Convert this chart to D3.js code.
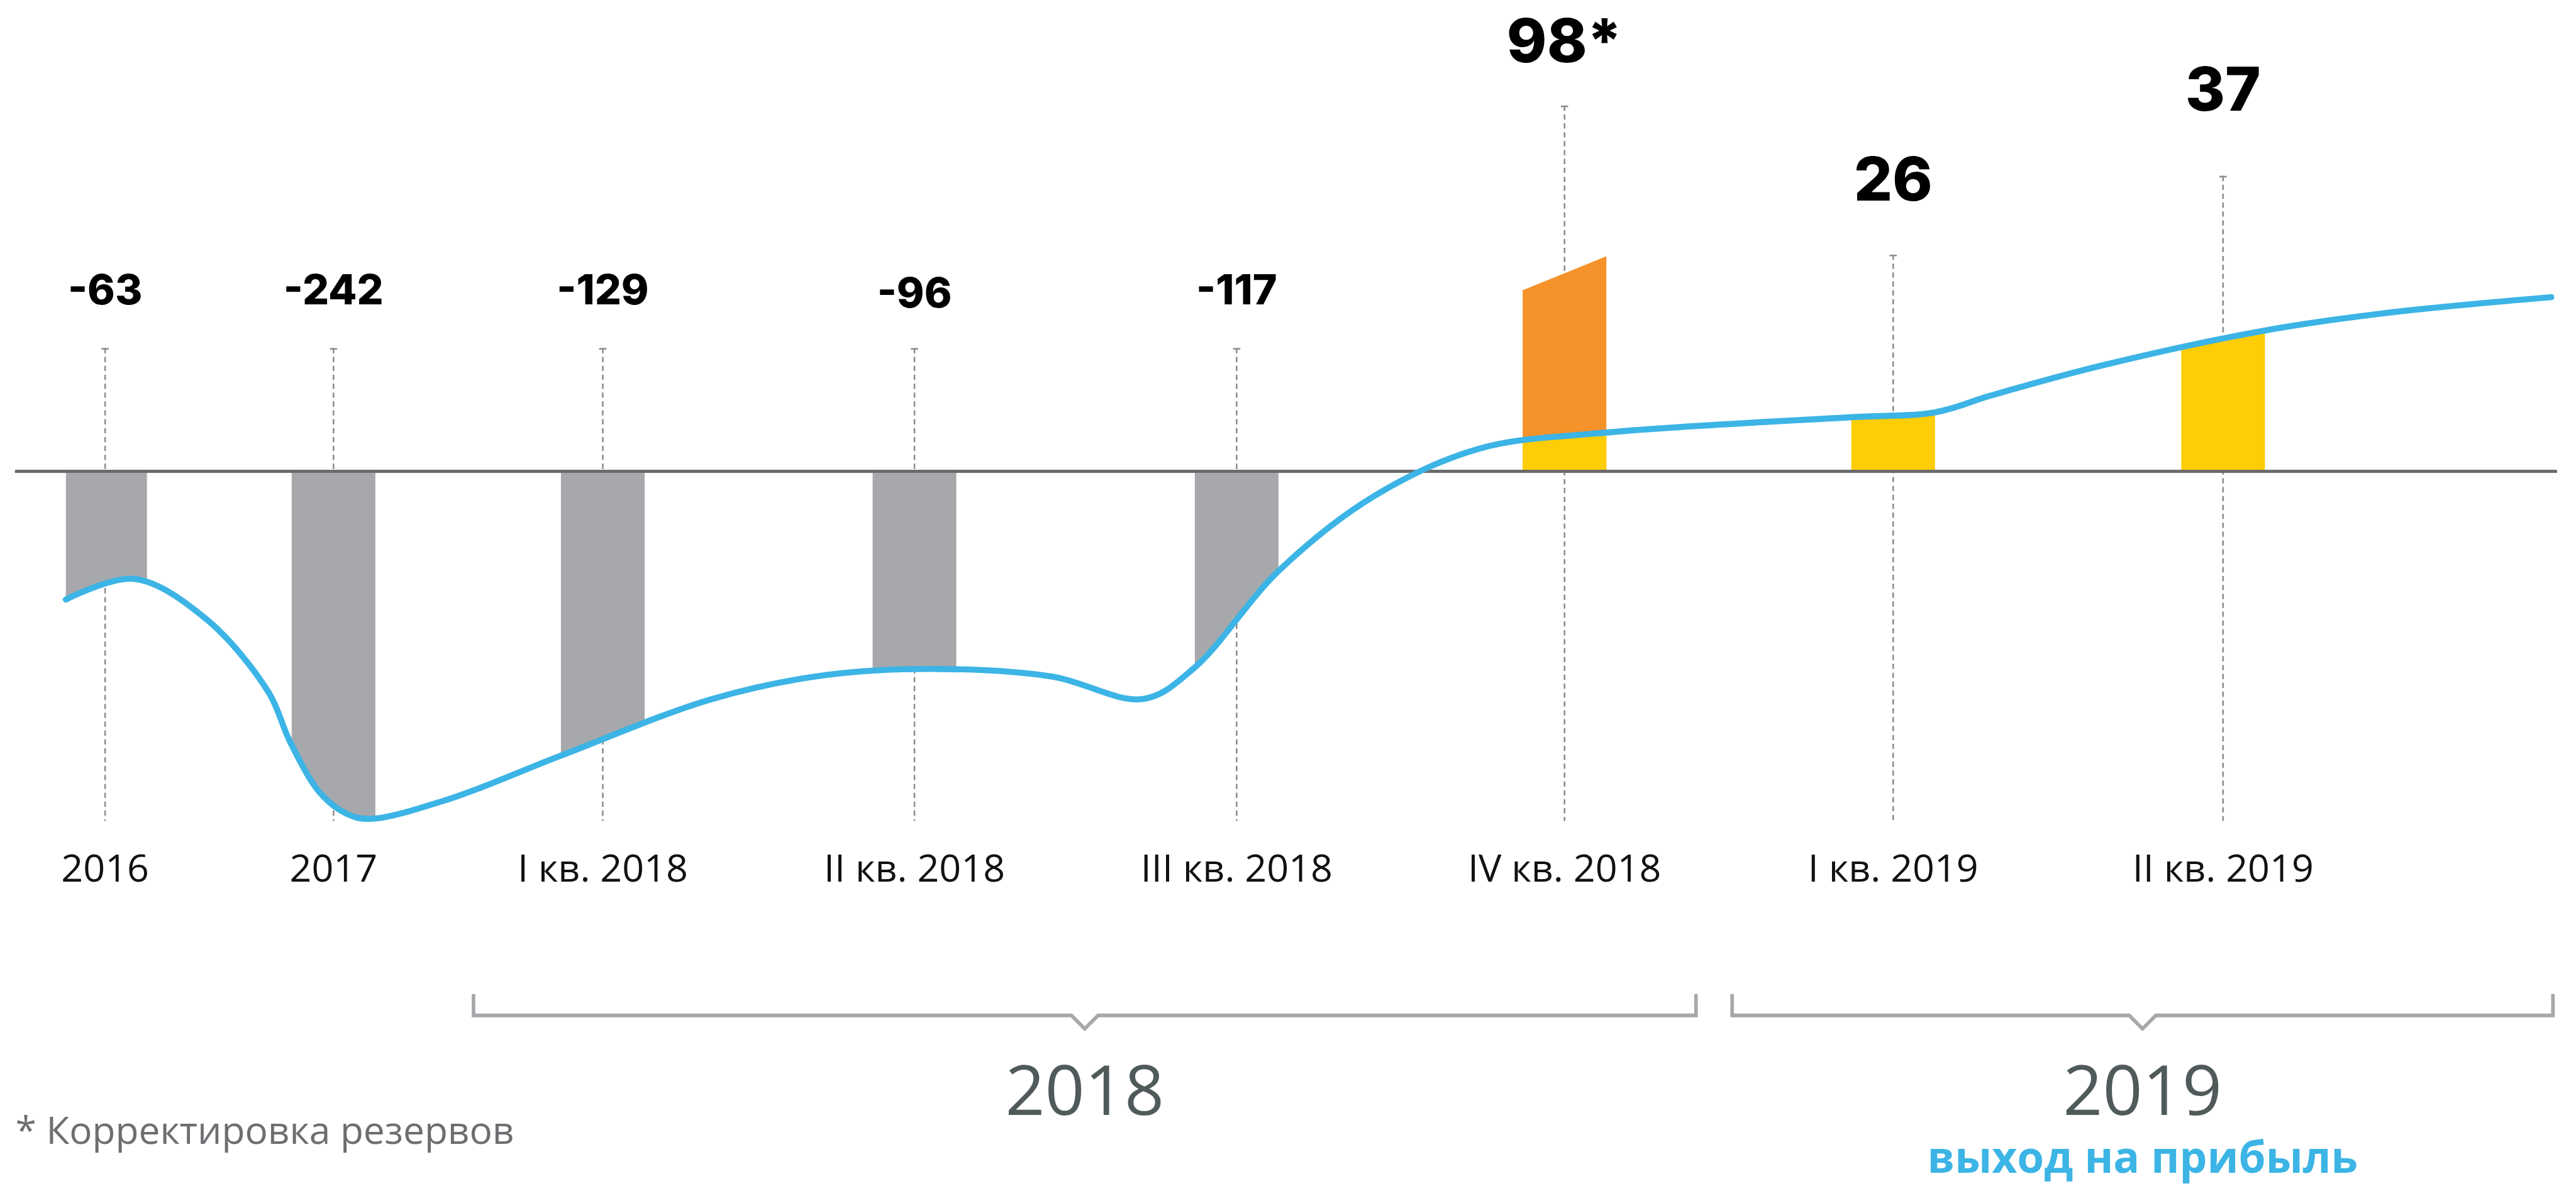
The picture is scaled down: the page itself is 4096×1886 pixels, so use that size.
<!DOCTYPE html>
<html>
<head>
<meta charset="utf-8">
<script src="https://cdn.jsdelivr.net/npm/d3@7"></script>
<style>
html, body { margin: 0; padding: 0; background: #fff; }
svg { display: block; }
</style>
</head>
<body>
<svg id="chart"></svg>
<script>
// --- данные ---
const categories = ["2016", "2017", "I кв. 2018", "II кв. 2018", "III кв. 2018", "IV кв. 2018", "I кв. 2019", "II кв. 2019"];
const values = [-63, -242, -129, -96, -117, 98, 26, 37];
const valueText = ["-63", "-242", "-129", "-96", "-117", "98*", "26", "37"];

// верх оранжевой части (корректировка резервов) у IV кв. 2018: левый и правый край
const reserveIndex = 5;
const reserveTop = [128, 152];

// линия тренда: t - позиция по оси категорий, v - условные единицы
const trendT = [-0.172, 0.127, 0.442, 0.715, 0.809, 0.940, 1.045, 1.131, 1.428, 1.845,
                2.351, 2.715, 3.075, 3.428, 3.710, 3.868, 4.127, 4.420, 4.739, 5.127,
                5.873, 6.127, 6.298, 6.634, 7.123, 7.486, 7.995];
const trendV = [-90.6, -76.0, -104.3, -156, -190.9, -227.1, -241.7, -245.7, -231.7, -200.9,
                -160.9, -144, -139.7, -145.1, -160.9, -139, -70.6, -17.4, 16, 27.4,
                38.3, 41.7, 53.7, 74.9, 99.4, 111.7, 123.1];

const periods = ["2018", "2019"];
const periodFrom = [1.52, 5.51];
const periodTo = [5.40, 8.0];
const periodNote = ["", "выход на прибыль"];
const footnote = "* Корректировка резервов";

// --- разметка (в пикселях исходной картинки, дальше масштабирует viewBox) ---
const W = 6372, H = 2934;
const slotX = [260, 825, 1491, 2262, 3059, 3870, 4683, 5499];
const zeroY = 1166;
const barW = 207;
const labelBaseline = [753, 753, 753, 761, 753, 154, 496, 274];
const guideTop = [861, 861, 861, 861, 861, 261, 630, 435];
const guideBottom = 2031;

const svg = d3.select("#chart")
    .attr("width", 4096)
    .attr("height", 1886)
    .attr("viewBox", `0 0 ${W} ${H}`);

const x = d3.scaleLinear().domain(d3.range(categories.length)).range(slotX);
const y = d3.scaleLinear().domain([0, 100]).range([zeroY, zeroY - 350]);

const trend = trendT.map((t, i) => ({t: t, v: trendV[i]}));

const line = d3.line()
    .x(d => x(d.t))
    .y(d => y(d.v))
    .curve(d3.curveCatmullRom.alpha(0.5));

const area = d3.area()
    .x(d => x(d.t))
    .y0(y(0))
    .y1(d => y(d.v))
    .curve(d3.curveCatmullRom.alpha(0.5));

svg.append("defs").append("clipPath")
    .attr("id", "underTrend")
    .append("path")
    .attr("d", area(trend));

// пунктирные направляющие
const guides = svg.append("g");
categories.forEach((c, i) => {
    guides.append("line")
        .attr("x1", x(i)).attr("x2", x(i))
        .attr("y1", guideTop[i]).attr("y2", guideBottom)
        .attr("stroke", "#8c8c8c")
        .attr("stroke-width", 4)
        .attr("stroke-dasharray", "13 9");
    guides.append("line")
        .attr("x1", x(i) - 9).attr("x2", x(i) + 9)
        .attr("y1", guideTop[i] + 2).attr("y2", guideTop[i] + 2)
        .attr("stroke", "#8c8c8c")
        .attr("stroke-width", 4);
});

// оранжевая часть столбца IV кв. 2018
const rx = x(reserveIndex);
svg.append("path")
    .attr("d", `M${rx - barW / 2},${y(0)}V${y(reserveTop[0])}L${rx + barW / 2},${y(reserveTop[1])}V${y(0)}Z`)
    .attr("fill", "#f5922a");

// столбцы, обрезанные линией тренда
svg.append("g")
    .attr("clip-path", "url(#underTrend)")
    .selectAll("rect")
    .data(values)
    .join("rect")
    .attr("x", (d, i) => x(i) - barW / 2)
    .attr("width", barW)
    .attr("y", 0)
    .attr("height", H)
    .attr("fill", d => d < 0 ? "#a7a8ab" : "#fecd05");

// нулевая линия
svg.append("line")
    .attr("x1", 37).attr("x2", 6325)
    .attr("y1", y(0)).attr("y2", y(0))
    .attr("stroke", "#6b6b6b")
    .attr("stroke-width", 8);

// линия тренда
svg.append("path")
    .attr("d", line(trend))
    .attr("fill", "none")
    .attr("stroke", "#3cb4e5")
    .attr("stroke-width", 15)
    .attr("stroke-linecap", "round");

// значения
svg.append("g")
    .selectAll("text")
    .data(valueText)
    .join("text")
    .attr("x", (d, i) => x(i))
    .attr("y", (d, i) => labelBaseline[i])
    .attr("text-anchor", "middle")
    .attr("font-family", "Inter, 'DejaVu Sans', sans-serif")
    .attr("font-weight", 800)
    .attr("font-size", (d, i) => values[i] > 0 ? 150 : 103)
    .attr("fill", "#000")
    .text(d => d);

// подписи категорий
svg.append("g")
    .selectAll("text")
    .data(categories)
    .join("text")
    .attr("x", (d, i) => x(i))
    .attr("y", 2181)
    .attr("text-anchor", "middle")
    .attr("font-family", "'Open Sans', sans-serif")
    .attr("font-size", 95)
    .attr("fill", "#111")
    .text(d => d);

// скобки периодов
const brackets = svg.append("g");
periods.forEach((p, i) => {
    const x0 = x(periodFrom[i]), x1 = x(periodTo[i]), cx = (x0 + x1) / 2;
    brackets.append("path")
        .attr("d", `M${x0},2459V2512H${cx - 33}L${cx},2545L${cx + 33},2512H${x1}V2459`)
        .attr("fill", "none")
        .attr("stroke", "#a7a8ab")
        .attr("stroke-width", 9);
    brackets.append("text")
        .attr("x", cx)
        .attr("y", 2758)
        .attr("text-anchor", "middle")
        .attr("font-family", "'Open Sans', sans-serif")
        .attr("font-size", 172)
        .attr("fill", "#515a5a")
        .text(p);
    if (periodNote[i]) {
        brackets.append("text")
            .attr("x", cx)
            .attr("y", 2901)
            .attr("text-anchor", "middle")
            .attr("font-family", "'Open Sans', sans-serif")
            .attr("font-weight", 700)
            .attr("font-size", 108)
            .attr("fill", "#3cb4e5")
            .text(periodNote[i]);
    }
});

svg.append("text")
    .attr("x", 38)
    .attr("y", 2830)
    .attr("font-family", "'Open Sans', sans-serif")
    .attr("font-size", 94)
    .attr("fill", "#6d6e71")
    .text(footnote);
</script>
</body>
</html>
